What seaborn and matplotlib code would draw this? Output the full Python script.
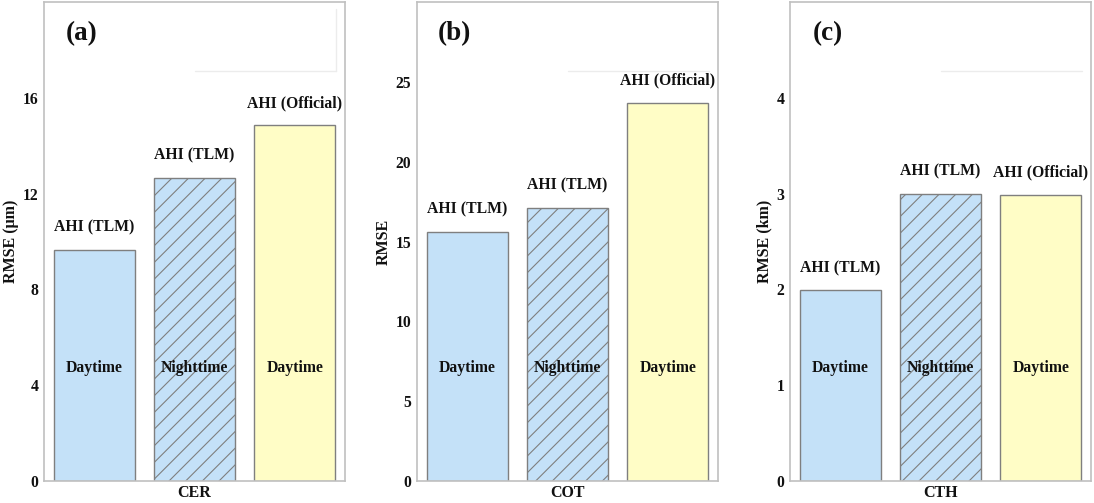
import pandas as pd
import matplotlib.pyplot as plt
import seaborn as sns

# data
groups = ["Daytime (TLM)", "Nighttime (TLM)", "Daytime (Official)"]
top_labels = ["AHI (TLM)", "AHI (TLM)", "AHI (Official)"]
inner_labels = ["Daytime", "Nighttime", "Daytime"]
cer_rmse = [9.65, 12.65, 14.85]
cot_rmse = [15.6, 17.1, 23.7]
cth_rmse = [1.99, 3.0, 2.99]

panels = ["(a)", "(b)", "(c)"]
xlabels = ["CER", "COT", "CTH"]
ylabels = ["RMSE (\u03bcm)", "RMSE", "RMSE (km)"]
yticks = [[0, 4, 8, 12, 16], [0, 5, 10, 15, 20, 25], [0, 1, 2, 3, 4]]
ylims = [20, 30, 5]
values = [cer_rmse, cot_rmse, cth_rmse]

colors = ["#c4e1f8", "#c4e1f8", "#fffdc6"]

sns.set_style("white")
plt.rcParams["font.family"] = ["Liberation Serif", "DejaVu Serif"]
plt.rcParams["font.weight"] = "bold"
plt.rcParams["text.color"] = "#111111"
plt.rcParams["axes.labelcolor"] = "#111111"
plt.rcParams["ytick.labelcolor"] = "#111111"
plt.rcParams["hatch.color"] = "#3f4d5a"
plt.rcParams["hatch.linewidth"] = 0.8

fig = plt.figure(figsize=(10.94, 5.03), dpi=100)
lefts = [44, 417, 790]
for i in range(3):
    ax = fig.add_axes([lefts[i] / 1094, (503 - 481) / 503, 301 / 1094, 479 / 503])
    df = pd.DataFrame({"group": groups, "rmse": values[i]})
    sns.barplot(data=df, x="group", y="rmse", hue="group", palette=colors, saturation=1,
                width=0.81, edgecolor="#7f7f7f", linewidth=1.0, legend=False, ax=ax)
    # hatch the nighttime bar
    ax.containers[1][0].set_hatch("//")

    for j, v in enumerate(values[i]):
        ax.annotate(top_labels[j], (j, v), xytext=(0, 16), textcoords="offset points",
                    ha="center", va="center", fontsize=11.3, fontweight="bold")
        ax.text(j, 0.236, inner_labels[j], transform=ax.get_xaxis_transform(),
                ha="center", va="center", fontsize=11.3, fontweight="bold")

    ax.text(0.125, 0.935, panels[i], transform=ax.transAxes, ha="center", va="center",
            fontsize=19.5, fontweight="bold")

    # faint empty legend frame left over in the original
    ax.plot([0.5, 0.97], [0.855, 0.855], transform=ax.transAxes, color="#ececec", lw=1)
    if i == 0:
        ax.plot([0.97, 0.97], [0.855, 0.985], transform=ax.transAxes, color="#ececec", lw=1)

    ax.set_xlim(-0.5, 2.5)
    ax.set_ylim(0, ylims[i])
    ax.set_yticks(yticks[i])
    ax.set_xticks([])
    ax.set_xlabel(xlabels[i], fontsize=11.5, fontweight="bold", labelpad=3)
    ax.set_ylabel(ylabels[i], fontsize=11.5, fontweight="bold", labelpad=3)
    ax.tick_params(axis="y", labelsize=11.3, length=2, color="#999999", pad=2)
    for lab in ax.get_yticklabels():
        lab.set_fontweight("bold")
    for s in ax.spines.values():
        s.set_color("#c0c0c0")
        s.set_linewidth(1.2)

fig.savefig("out.png", dpi=100)
